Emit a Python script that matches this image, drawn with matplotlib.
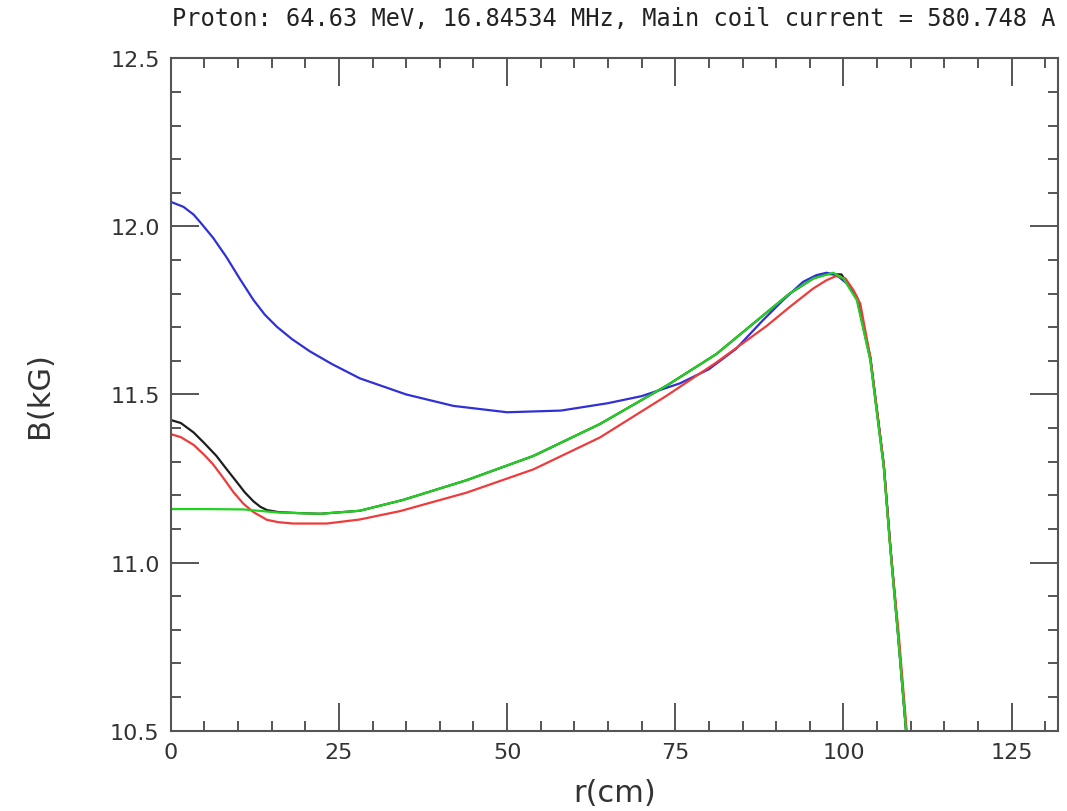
import matplotlib
matplotlib.use("Agg")
import matplotlib.pyplot as plt
from matplotlib.ticker import MultipleLocator

# field profiles, r in cm, B in kG
r_black = [0, 1.5, 3.4, 5, 6.8, 8.3, 9.8, 11, 12.3, 13.3, 14.3, 16, 19, 22.2, 28.1,
           34.5, 44, 53.9, 63.8, 73.7, 81.1, 88.6, 92, 95.5, 97.5, 99.7, 102, 104,
           106, 107, 108.1, 109.3, 110.5]
b_black = [11.424, 11.415, 11.387, 11.355, 11.317, 11.278, 11.240, 11.209, 11.182,
           11.166, 11.156, 11.150, 11.147, 11.145, 11.154, 11.186, 11.245, 11.317,
           11.412, 11.526, 11.620, 11.744, 11.80, 11.845, 11.858, 11.857, 11.79,
           11.61, 11.29, 11.04, 10.79, 10.50, 10.2]

r_blue = [0, 1.9, 3.4, 4.4, 6.3, 8.3, 10.3, 12.3, 14, 15.8, 18, 20.7, 24, 28.1, 35,
          42, 50, 58, 65, 70, 75.7, 80, 84, 88, 91, 94, 96, 97.5, 99, 100.5, 102,
          104, 106, 107, 108.1, 109.3, 110.5]
b_blue = [12.073, 12.058, 12.035, 12.012, 11.966, 11.908, 11.843, 11.781, 11.737,
          11.701, 11.665, 11.628, 11.590, 11.548, 11.50, 11.466, 11.447, 11.452,
          11.474, 11.495, 11.533, 11.575, 11.635, 11.72, 11.78, 11.835, 11.855,
          11.862, 11.855, 11.83, 11.785, 11.605, 11.287, 11.04, 10.792, 10.504, 10.2]

r_red = [0, 1.5, 3.4, 5, 6.3, 7.8, 9.3, 10.8, 12.3, 14.3, 16, 18.2, 23.2, 28.1, 34.1,
         44, 53.9, 63.8, 73.7, 81.1, 88.6, 92, 95.5, 97.5, 98.9, 100.3, 101.5, 102.5,
         104, 106, 107, 108.2, 109.4, 110.6]
b_red = [11.382, 11.373, 11.350, 11.320, 11.292, 11.252, 11.210, 11.175, 11.150,
         11.127, 11.120, 11.116, 11.116, 11.128, 11.153, 11.208, 11.277, 11.372,
         11.496, 11.595, 11.704, 11.76, 11.815, 11.84, 11.852, 11.845, 11.81, 11.77,
         11.61, 11.29, 11.04, 10.79, 10.50, 10.2]

r_green = [0, 5, 10.8, 15.8, 22.2, 28.1, 34.5, 44, 53.9, 63.8, 73.7, 81.1, 88.6, 92,
           95.5, 98.5, 100, 102, 104, 106, 107, 108.1, 109.3, 110.5]
b_green = [11.159, 11.159, 11.158, 11.149, 11.145, 11.154, 11.186, 11.245, 11.317,
           11.412, 11.526, 11.620, 11.744, 11.80, 11.845, 11.862, 11.845, 11.78,
           11.60, 11.28, 11.03, 10.785, 10.50, 10.2]

TITLE = "Proton: 64.63 MeV, 16.84534 MHz, Main coil current = 580.748 A"

fig = plt.figure(figsize=(10.67, 8.12), dpi=100)
ax = fig.add_axes([0.160, 0.099, 0.8316, 0.828])

lw = 1.6
ax.plot(r_black, b_black, color="#1e1e1e", lw=lw)
ax.plot(r_blue, b_blue, color="#3030d8", lw=lw)
ax.plot(r_red, b_red, color="#ee3b3b", lw=lw)
ax.plot(r_green, b_green, color="#22d022", lw=lw)

ax.set_xlim(0, 131.9)
ax.set_ylim(10.5, 12.5)

ax.xaxis.set_major_locator(MultipleLocator(25))
ax.xaxis.set_minor_locator(MultipleLocator(5))
ax.yaxis.set_major_locator(MultipleLocator(0.5))
ax.yaxis.set_minor_locator(MultipleLocator(0.1))
ax.yaxis.set_major_formatter(matplotlib.ticker.FormatStrFormatter("%.1f"))

axcol = "#555555"
for s in ax.spines.values():
    s.set_color(axcol)
    s.set_linewidth(1.5)
ax.tick_params(which="both", direction="in", top=True, right=True,
               color=axcol, width=1.4, labelcolor="#333333", labelsize=16)
ax.tick_params(which="major", length=20, pad=8)
ax.tick_params(which="minor", length=7)

ax.set_xlabel("r(cm)", fontsize=22, color="#333333", labelpad=12)
ax.set_ylabel("B(kG)", fontsize=22, color="#333333", labelpad=40)

fig.text(172 / 1067, 1 - 19 / 812, TITLE, fontsize=17, color="#222222",
         family="DejaVu Sans Mono", ha="left", va="center")

fig.savefig("out.png", dpi=100)
